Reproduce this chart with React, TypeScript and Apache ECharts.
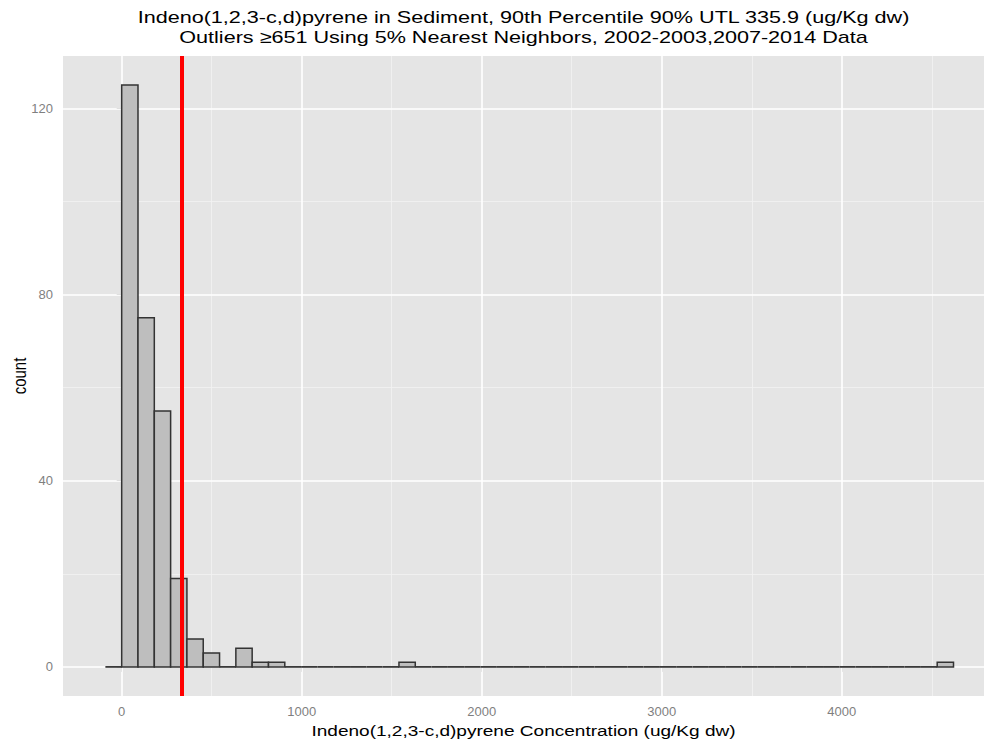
import React, { useEffect, useRef } from "react";
import * as echarts from "echarts";

// Histogram bins (ggplot-style): first bin starts one bin width below 0
const binStart = -90.6;
const binWidth = 90.6;
const counts = [
  0, 125, 75, 55, 19, 6, 3, 0, 4, 1, 1, 0, 0, 0, 0, 0, 0, 0, 1, 0,
  0, 0, 0, 0, 0, 0, 0, 0, 0, 0, 0, 0, 0, 0, 0, 0, 0, 0, 0, 0,
  0, 0, 0, 0, 0, 0, 0, 0, 0, 0, 0, 1,
];
const utl = 335.9;

const xTicks = [0, 1000, 2000, 3000, 4000];
const xMinor = [500, 1500, 2500, 3500, 4500];
const yTicks = [0, 40, 80, 120];
const yMinor = [20, 60, 100];

const titleLine1 = "Indeno(1,2,3-c,d)pyrene in Sediment, 90th Percentile 90% UTL 335.9 (ug/Kg dw)";
const titleLine2 = "Outliers \u2265651 Using 5% Nearest Neighbors, 2002-2003,2007-2014 Data";
const xTitle = "Indeno(1,2,3-c,d)pyrene Concentration (ug/Kg dw)";
const yTitle = "count";

const FONT = "'Liberation Sans', Arial, Helvetica, sans-serif";
const STRETCH = 1.27;

export default function App() {
  const ref = useRef<HTMLDivElement>(null);
  useEffect(() => {
    if (!ref.current) return;
    const chart = echarts.init(ref.current, undefined, { renderer: "svg" });
    const binData = counts.map((c, i) => [
      binStart + i * binWidth,
      binStart + (i + 1) * binWidth,
      c,
    ]);
    const gridLine = (axis: "xAxis" | "yAxis", vals: number[], width: number, color: string) => ({
      type: "line" as const,
      data: [],
      z: 1,
      silent: true,
      markLine: {
        z: 1,
        silent: true,
        symbol: ["none", "none"],
        label: { show: false },
        lineStyle: { color, width, type: "solid" },
        emphasis: { disabled: true },
        data: vals.map((v) => ({ [axis]: v })),
      },
    });
    const textEl = (text: string, x: number, y: number, size: number, extra: any = {}) => ({
      type: "text",
      x,
      y,
      scaleX: STRETCH,
      ...extra,
      style: {
        text,
        x: 0,
        y: 0,
        fontSize: size,
        fontFamily: FONT,
        fill: "#000000",
        align: "center",
        verticalAlign: "middle",
      },
    });
    chart.setOption({
      animation: false,
      grid: {
        left: 63,
        right: 1,
        top: 56,
        bottom: 50,
        show: true,
        backgroundColor: "#e5e5e5",
        borderWidth: 0,
      },
      xAxis: {
        type: "value",
        min: -326,
        max: 4790,
        splitLine: { show: false },
        axisLine: { show: false },
        axisTick: {
          show: true,
          length: 5,
          lineStyle: { color: "#7f7f7f", width: 1 },
          customValues: xTicks,
        },
        axisLabel: {
          customValues: xTicks,
          formatter: (v: number) => String(v),
          color: "#7f7f7f",
          fontSize: 13,
          fontFamily: FONT,
          margin: 9,
        },
      },
      yAxis: {
        type: "value",
        min: -6.25,
        max: 131.25,
        splitLine: { show: false },
        axisLine: { show: false },
        axisTick: {
          show: true,
          length: 5,
          lineStyle: { color: "#7f7f7f", width: 1 },
          customValues: yTicks,
        },
        axisLabel: {
          customValues: yTicks,
          formatter: (v: number) => String(v),
          color: "#7f7f7f",
          fontSize: 13,
          fontFamily: FONT,
          margin: 10,
        },
      },
      series: [
        gridLine("xAxis", xMinor, 0.8, "#f2f2f2"),
        gridLine("yAxis", yMinor, 0.8, "#f2f2f2"),
        gridLine("xAxis", xTicks, 1.6, "#ffffff"),
        gridLine("yAxis", yTicks, 1.6, "#ffffff"),
        {
          type: "custom",
          z: 3,
          data: binData,
          encode: { x: [0, 1], y: 2 },
          renderItem: (params: any, api: any) => {
            const x0 = api.value(0);
            const x1 = api.value(1);
            const c = api.value(2);
            const p0 = api.coord([x0, c]);
            const p1 = api.coord([x1, 0]);
            if (c === 0) {
              return {
                type: "line",
                shape: { x1: p0[0], y1: p1[1], x2: p1[0], y2: p1[1] },
                style: { stroke: "#3a3a3a", lineWidth: 1.8 },
              };
            }
            return {
              type: "rect",
              shape: {
                x: p0[0],
                y: p0[1],
                width: p1[0] - p0[0],
                height: p1[1] - p0[1],
              },
              style: { fill: "#bebebe", stroke: "#333333", lineWidth: 1.5 },
            };
          },
        },
        {
          type: "line",
          data: [],
          z: 10,
          silent: true,
          markLine: {
            z: 10,
            silent: true,
            symbol: ["none", "none"],
            label: { show: false },
            lineStyle: { color: "#ff0000", width: 4, type: "solid" },
            data: [{ xAxis: utl }],
          },
        },
      ],
      graphic: [
        textEl(titleLine1, 523.5, 17, 17),
        textEl(titleLine2, 523.5, 37, 17),
        textEl(xTitle, 523.5, 731, 15),
        {
          type: "text",
          x: 19,
          y: 376,
          rotation: Math.PI / 2,
          scaleY: STRETCH,
          style: {
            text: yTitle,
            x: 0,
            y: 0,
            fontSize: 15,
            fontFamily: FONT,
            fill: "#000000",
            align: "center",
            verticalAlign: "middle",
          },
        },
      ],
    });
    return () => chart.dispose();
  }, []);
  return (
    <div
      ref={ref}
      style={{ position: "fixed", left: 0, top: 0, width: 985, height: 746, background: "#ffffff" }}
    />
  );
}
